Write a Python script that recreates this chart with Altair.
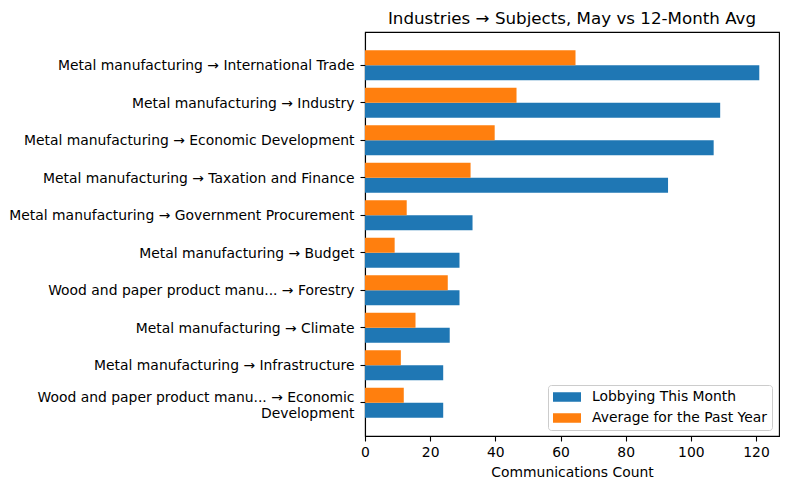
import altair as alt
import pandas as pd

# Industry → subject pairs, top to bottom
categories = [
    "Metal manufacturing → International Trade",
    "Metal manufacturing → Industry",
    "Metal manufacturing → Economic Development",
    "Metal manufacturing → Taxation and Finance",
    "Metal manufacturing → Government Procurement",
    "Metal manufacturing → Budget",
    "Wood and paper product manu... → Forestry",
    "Metal manufacturing → Climate",
    "Metal manufacturing → Infrastructure",
    "Wood and paper product manu... → Economic\nDevelopment",
]
this_month = [121, 109, 107, 93, 33, 29, 29, 26, 24, 24]
past_year_avg = [64.6, 46.5, 39.8, 32.4, 12.8, 9.1, 25.4, 15.5, 11.0, 11.9]

series_names = ["Lobbying This Month", "Average for the Past Year"]
series_colors = ["#1f77b4", "#ff7f0e"]

rows = []
for cat, a, b in zip(categories, this_month, past_year_avg):
    rows.append({"pair": cat, "series": series_names[0], "count": a})
    rows.append({"pair": cat, "series": series_names[1], "count": b})
df = pd.DataFrame(rows)

FONT = "DejaVu Sans"
# flat rectangular legend swatch (28 x ~10 px at symbolSize 196), starting at the entry's left edge
swatch = "M-1,-0.68L3,-0.68L3,0.68L-1,0.68Z"

chart = (
    alt.Chart(df)
    .mark_bar(size=15)
    .encode(
        x=alt.X(
            "count:Q",
            title="Communications Count",
            scale=alt.Scale(domain=[0, 127.05], nice=False, zero=True),
            axis=alt.Axis(values=[0, 20, 40, 60, 80, 100, 120], labelFlush=False,
                          titlePadding=7),
        ),
        y=alt.Y(
            "pair:N",
            sort=categories,
            title=None,
            scale=alt.Scale(paddingInner=0.2, paddingOuter=0.49),
            axis=alt.Axis(
                labelExpr="split(datum.label, '\\n')",
                labelLineHeight=16,
                labelLimit=400,
                labelPadding=6,
                labelOffset={
                    "condition": {"test": "indexof(datum.value, '\\n') >= 0", "value": -5},
                    "value": 1,
                },
            ),
        ),
        yOffset=alt.YOffset(
            "series:N",
            sort=[series_names[1], series_names[0]],
            scale=alt.Scale(paddingInner=0, paddingOuter=0),
        ),
        color=alt.Color(
            "series:N",
            scale=alt.Scale(domain=series_names, range=series_colors),
            legend=alt.Legend(
                title=None,
                orient="none",
                legendX=183,
                legendY=353,
                symbolType=swatch,
                symbolSize=196,
                symbolStrokeWidth=0,
                symbolOpacity=1,
                labelFontSize=13.9,
                labelFont=FONT,
                labelColor="black",
                labelOffset=25,
                labelLimit=300,
                rowPadding=7,
                padding=5,
                fillColor="rgba(255,255,255,0.8)",
                strokeColor="#cccccc",
                cornerRadius=3,
            ),
        ),
    )
    .properties(
        width=414,
        height=404,
        title=alt.TitleParams(
            "Industries → Subjects, May vs 12-Month Avg",
            font=FONT,
            fontSize=16.7,
            fontWeight="normal",
            color="black",
            anchor="middle",
            baseline="alphabetic",
            offset=8,
            dy=17,
        ),
        autosize=alt.AutoSizeParams(type="none"),
        padding={"left": 365, "top": 32, "right": 11, "bottom": 54},
    )
    .configure_view(stroke="black", strokeWidth=1.1)
    .configure_axis(
        labelFont=FONT,
        titleFont=FONT,
        labelFontSize=13.9,
        titleFontSize=13.9,
        labelColor="black",
        titleColor="black",
        titleFontWeight="normal",
        domainColor="black",
        domainWidth=1.1,
        tickColor="black",
        tickWidth=1.1,
        tickSize=5,
        labelPadding=4,
        grid=False,
    )
)

chart.save("out.html", embed_options={"renderer": "svg", "actions": False})
